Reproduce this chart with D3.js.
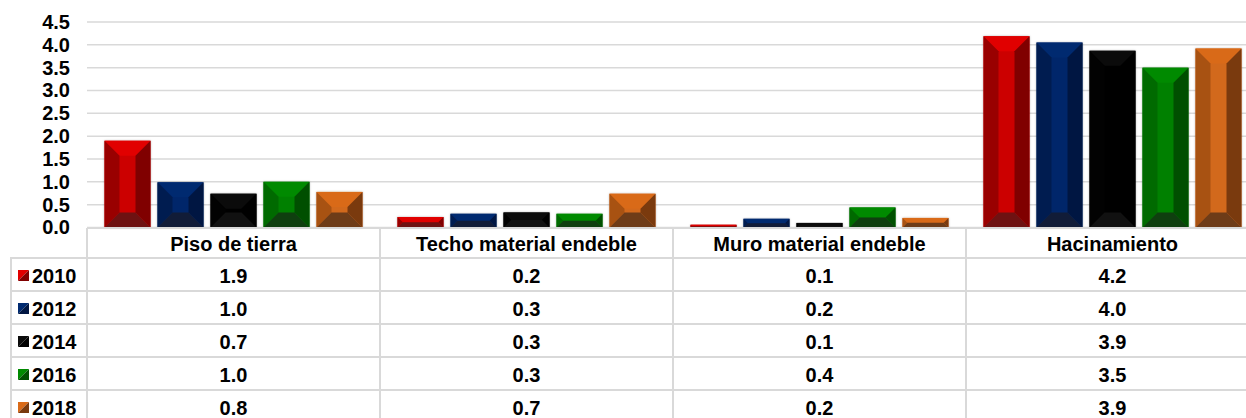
<!DOCTYPE html>
<html>
<head>
<meta charset="utf-8">
<script src="https://cdn.jsdelivr.net/npm/d3@7"></script>
<style>
  body { margin: 0; background: #fff; }
  svg { display: block; font-family: "Liberation Sans", Arial, sans-serif; font-weight: bold; }
</style>
</head>
<body>
<div class="container"></div>
<script>
// Data
const categories = ["Piso de tierra", "Techo material endeble", "Muro material endeble", "Hacinamiento"];
const years = ["2010", "2012", "2014", "2016", "2018"];
// bar heights (by year, one value per category)
const v2010 = [1.9, 0.23, 0.06, 4.19];
const v2012 = [0.99, 0.30, 0.19, 4.05];
const v2014 = [0.74, 0.33, 0.10, 3.87];
const v2016 = [1.0, 0.30, 0.44, 3.50];
const v2018 = [0.78, 0.74, 0.21, 3.92];
// table labels
const t2010 = ["1.9", "0.2", "0.1", "4.2"];
const t2012 = ["1.0", "0.3", "0.2", "4.0"];
const t2014 = ["0.7", "0.3", "0.1", "3.9"];
const t2016 = ["1.0", "0.3", "0.4", "3.5"];
const t2018 = ["0.8", "0.7", "0.2", "3.9"];
const yTicks = [0, 0.5, 1, 1.5, 2, 2.5, 3, 3.5, 4, 4.5];

const values = [v2010, v2012, v2014, v2016, v2018];
const labels = [t2010, t2012, t2014, t2016, t2018];

// facet colours: top, centre, left, right, bottom
const facets = {
  "2010": ["#e10000", "#cc0000", "#990000", "#800000", "#6e1212"],
  "2012": ["#002a70", "#05286a", "#001c50", "#001642", "#111c38"],
  "2014": ["#0b0b0b", "#050505", "#020202", "#000000", "#111111"],
  "2016": ["#008a00", "#008000", "#006a00", "#004f00", "#0f3f0f"],
  "2018": ["#d96a18", "#d2691e", "#a85212", "#7a3a0e", "#6e3c18"]
};

const w = 1246, h = 418;
const left = 87, colW = 293;
const base = 227.5, yTop = 22;
const tableTop = 228, headH = 30, rowH = 33;
const grid = "#d9d9d9";
const fs = 20;

const svg = d3.select(".container").append("svg")
  .attr("width", w).attr("height", h);

const defs = svg.append("defs");
const f = defs.append("filter").attr("id", "sh").attr("x", "-20%").attr("y", "-20%").attr("width", "140%").attr("height", "140%");
f.append("feDropShadow").attr("dx", 0).attr("dy", 0).attr("stdDeviation", 1.3)
  .attr("flood-color", "#000").attr("flood-opacity", 0.3);

// Scales
const x0 = d3.scaleBand().domain(categories).range([left, left + colW * 4]).padding(0);
const x1 = d3.scaleBand().domain(years).range([17.5, colW - 17.5]).paddingInner(0.132).paddingOuter(0);
const y = d3.scaleLinear().domain([0, 4.5]).range([base, yTop]);

// Gridlines
svg.append("g").selectAll("line").data(yTicks).enter().append("line")
  .attr("x1", left).attr("x2", w)
  .attr("y1", d => y(d)).attr("y2", d => y(d))
  .attr("stroke", grid).attr("stroke-width", 1.5);

// Y axis labels
const yAxis = d3.axisLeft(y).tickValues(yTicks).tickFormat(d3.format(".1f")).tickSize(0).tickPadding(0);
const ga = svg.append("g").attr("transform", "translate(70,0)").call(yAxis);
ga.select(".domain").remove();
ga.selectAll("text").attr("font-size", fs).attr("font-weight", "bold")
  .attr("font-family", "Liberation Sans, Arial, sans-serif").attr("fill", "#000");

// Bevelled bars
function bevel(g, bx, by, bw, bh, c) {
  const b = Math.min(15, bw / 2, bh / 2);
  const xa = bx, xb = bx + bw, ya = by, yb = by + bh;
  const poly = [
    [[xa, ya], [xb, ya], [xb - b, ya + b], [xa + b, ya + b]],
    null,
    [[xa, ya], [xa + b, ya + b], [xa + b, yb - b], [xa, yb]],
    [[xb, ya], [xb - b, ya + b], [xb - b, yb - b], [xb, yb]],
    [[xa, yb], [xb, yb], [xb - b, yb - b], [xa + b, yb - b]]
  ];
  g.append("rect").attr("x", xa).attr("y", ya).attr("width", bw).attr("height", bh)
    .attr("fill", c[1]).attr("filter", "url(#sh)");
  poly.forEach((p, i) => {
    if (!p) return;
    g.append("polygon").attr("points", p.map(q => q.join(",")).join(" ")).attr("fill", c[i]);
  });
}

const bars = svg.append("g");
years.forEach((yr, si) => {
  categories.forEach((cat, ci) => {
    const v = values[si][ci];
    bevel(bars, x0(cat) + x1(yr), y(v), x1.bandwidth(), base - y(v), facets[yr]);
  });
});

// Data table
const tbl = svg.append("g");
const rowY = i => tableTop + headH + i * rowH;
// horizontal lines
tbl.append("line").attr("x1", left).attr("x2", w).attr("y1", tableTop).attr("y2", tableTop)
  .attr("stroke", grid).attr("stroke-width", 2);
d3.range(years.length + 1).forEach(i => {
  tbl.append("line").attr("x1", 10).attr("x2", w).attr("y1", rowY(i)).attr("y2", rowY(i))
    .attr("stroke", grid).attr("stroke-width", 2);
});
// vertical lines
tbl.append("line").attr("x1", 11).attr("x2", 11).attr("y1", rowY(0)).attr("y2", h)
  .attr("stroke", grid).attr("stroke-width", 2);
categories.forEach(cat => {
  tbl.append("line").attr("x1", x0(cat)).attr("x2", x0(cat)).attr("y1", tableTop).attr("y2", h)
    .attr("stroke", grid).attr("stroke-width", 2);
});

// headers
tbl.selectAll("text.hd").data(categories).enter().append("text")
  .attr("class", "hd")
  .attr("x", d => x0(d) + colW / 2).attr("y", tableTop + headH / 2 + 1)
  .attr("text-anchor", "middle").attr("dominant-baseline", "central")
  .attr("font-size", fs).text(d => d);

// rows
years.forEach((yr, si) => {
  const cy = rowY(si) + rowH / 2 + 1;
  const c = facets[yr];
  tbl.append("polygon").attr("points", `18,${cy - 5.5} 29,${cy - 5.5} 18,${cy + 5.5}`).attr("fill", c[0]);
  tbl.append("polygon").attr("points", `29,${cy - 5.5} 29,${cy + 5.5} 18,${cy + 5.5}`).attr("fill", c[3]);
  tbl.append("text").attr("x", 32).attr("y", cy).attr("dominant-baseline", "central")
    .attr("font-size", fs).text(yr);
  categories.forEach((cat, ci) => {
    tbl.append("text").attr("x", x0(cat) + colW / 2).attr("y", cy)
      .attr("text-anchor", "middle").attr("dominant-baseline", "central")
      .attr("font-size", fs).text(labels[si][ci]);
  });
});
</script>
</body>
</html>
